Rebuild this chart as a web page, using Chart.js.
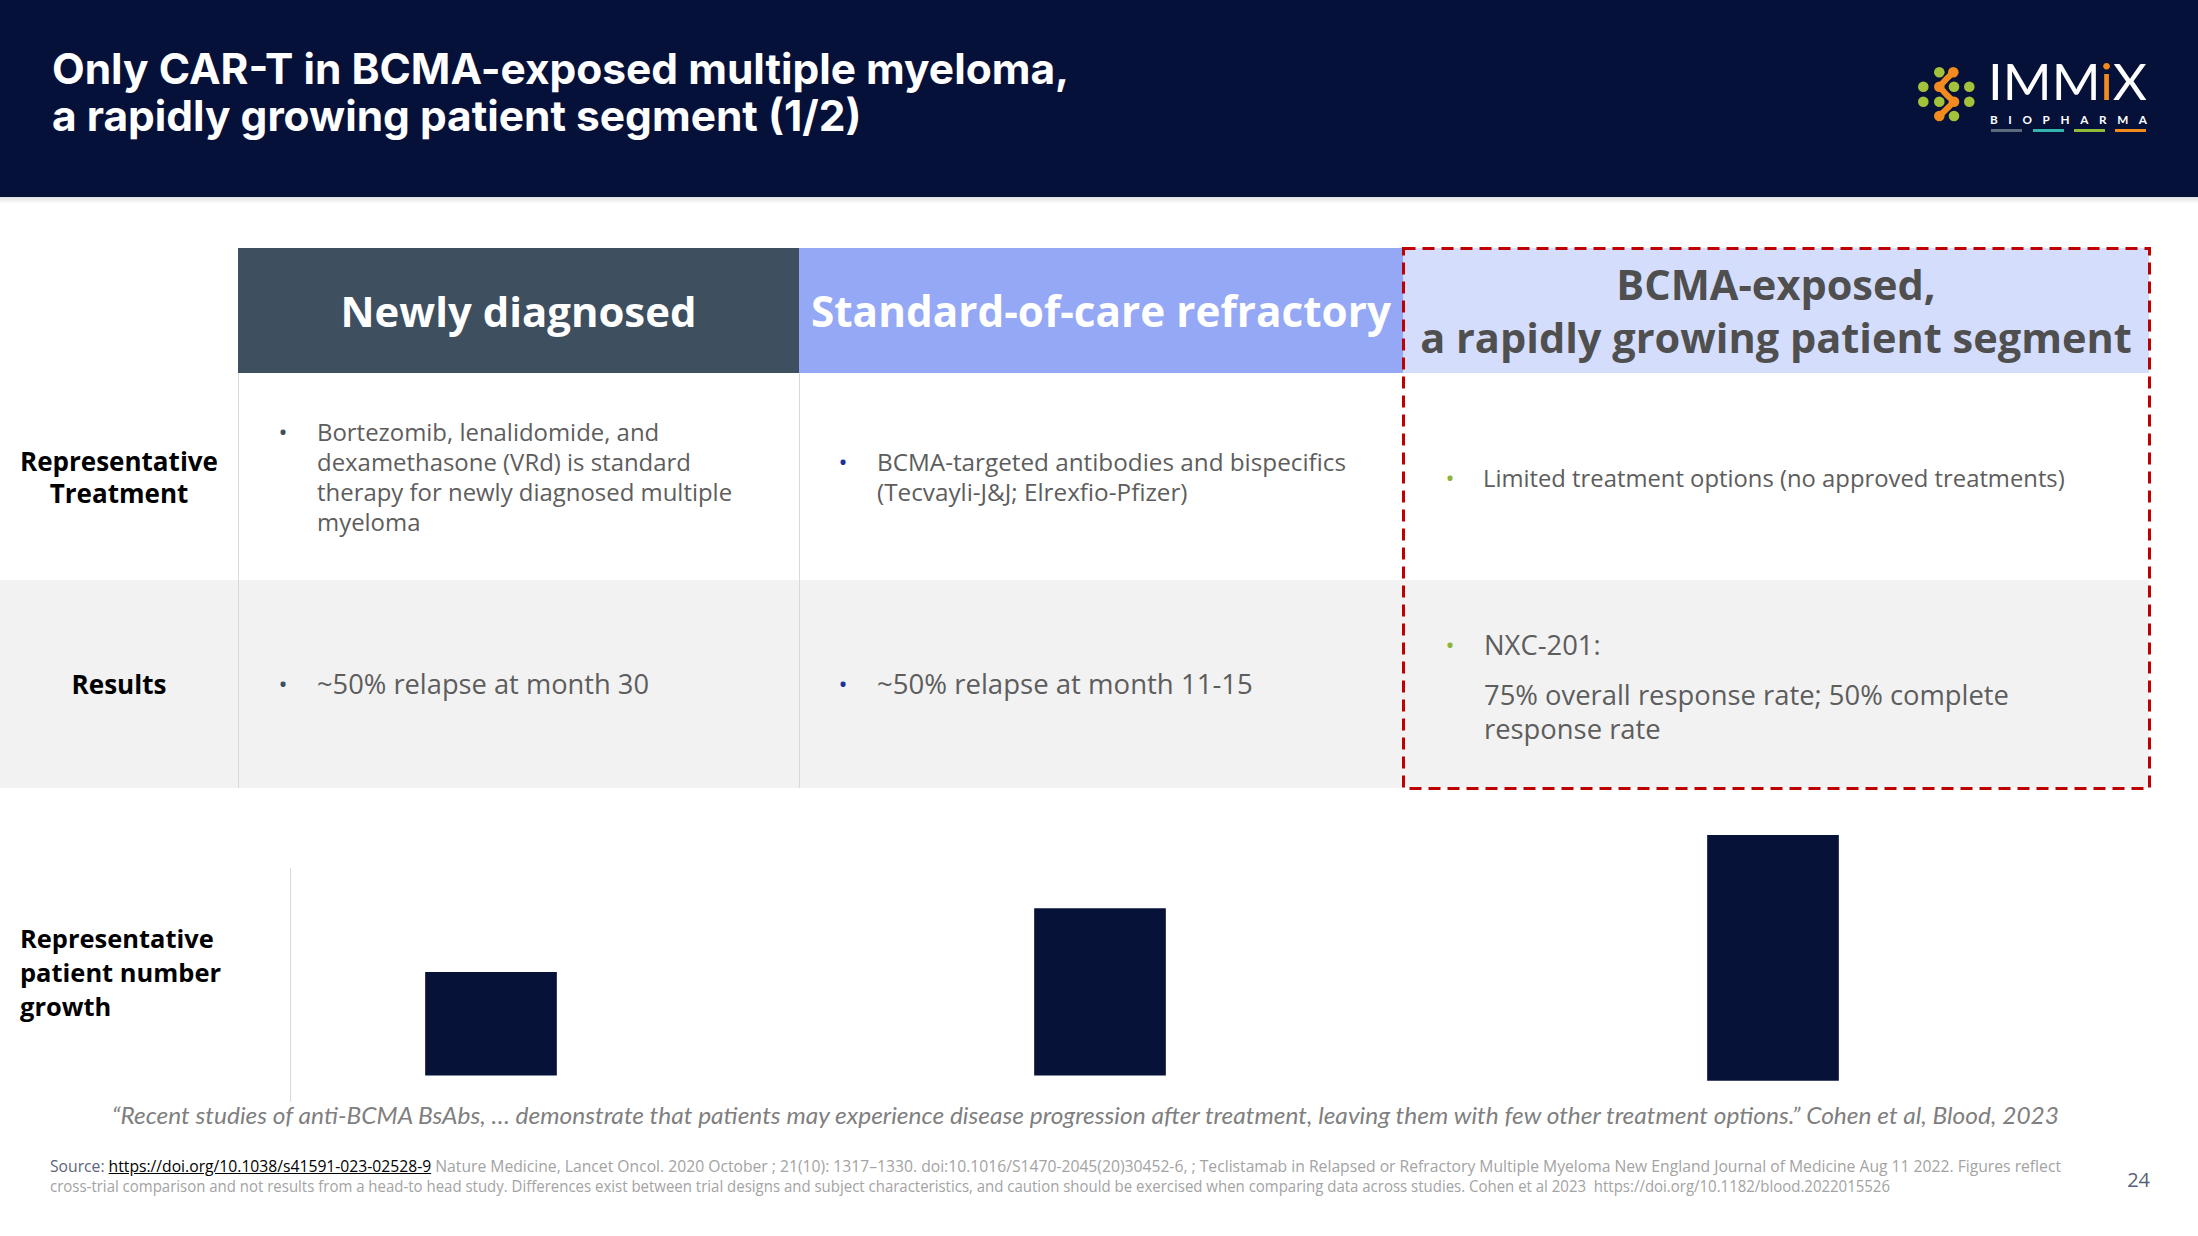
<!DOCTYPE html>
<html><head><meta charset="utf-8">
<script src="https://cdn.jsdelivr.net/npm/chart.js@4.4.0/dist/chart.umd.min.js"></script>
<style>
html,body{margin:0;padding:0;}
body{width:2198px;height:1236px;position:relative;overflow:hidden;background:#fff;font-family:"Open Sans","Noto Sans",sans-serif;}
.abs{position:absolute;}
.fit{display:inline-block;white-space:nowrap;}
.cell{position:absolute;display:flex;align-items:center;}
.row{display:flex;align-items:flex-start;}
.bul{display:inline-block;width:14px;text-align:center;font-size:24px;line-height:30px;}
.txt{color:#5d5d5d;font-size:24px;line-height:30px;}
.hd{position:absolute;display:flex;align-items:center;justify-content:center;font-weight:700;}
.lab{position:absolute;display:flex;align-items:center;justify-content:center;font-weight:700;color:#000;text-align:center;}
</style>
</head>
<body>
<!-- header band -->
<div class="abs" style="left:0;top:0;width:2198px;height:197px;background:#06113a;"></div>
<div class="abs" style="left:0;top:197px;width:2198px;height:7px;background:linear-gradient(#e2e2e2,#ffffff);"></div>
<div class="abs fit" data-w="1017" style="left:52px;top:45px;font-family:Inter,'Open Sans',sans-serif;color:#fff;font-weight:700;font-size:38px;line-height:47px;">Only CAR-T in BCMA-exposed multiple myeloma,<br>a rapidly growing patient segment (1/2)</div>

<!-- logo -->
<svg class="abs" style="left:1910px;top:60px;" width="70" height="70" viewBox="1910 60 70 70">
  <path d="M1953.3 72.3 Q1946 79 1939.3 86.7 Q1946 95 1954 101.7 Q1947 109 1939.3 116" stroke="#f28a1e" stroke-width="6" fill="none" stroke-linecap="round"/>
  <g fill="#a3c13a">
    <circle cx="1939.3" cy="72.3" r="5.3"/>
    <circle cx="1923.3" cy="86.7" r="5.3"/>
    <circle cx="1954" cy="86.7" r="5.3"/>
    <circle cx="1969.3" cy="86.7" r="5.3"/>
    <circle cx="1923.3" cy="101.7" r="5.3"/>
    <circle cx="1939.3" cy="101.7" r="5.3"/>
    <circle cx="1969.3" cy="101.7" r="5.3"/>
    <circle cx="1954" cy="116" r="5.3"/>
  </g>
  <g fill="#f28a1e">
    <circle cx="1953.3" cy="72.3" r="5.3"/>
    <circle cx="1939.3" cy="86.7" r="5.3"/>
    <circle cx="1954" cy="101.7" r="5.3"/>
    <circle cx="1939.3" cy="116" r="5.3"/>
  </g>
</svg>
<div class="abs fit" data-sx="159" style="left:1988px;top:61px;font-family:Lato,'Open Sans',sans-serif;color:#fff;font-weight:400;font-size:51px;line-height:40px;transform-origin:left center;">IMM<span style="color:#f28a1e;">i</span>X</div>
<div class="abs fit" data-sx="157" style="left:1990px;top:113px;font-family:Lato,'Open Sans',sans-serif;color:#fff;font-weight:700;font-size:12px;line-height:14px;letter-spacing:10.9px;transform-origin:left center;">BIOPHARM<span style="letter-spacing:0;">A</span></div>
<div class="abs" style="left:1991px;top:129px;width:31px;height:3px;background:#5d6b7d;"></div>
<div class="abs" style="left:2033px;top:129px;width:31px;height:3px;background:#33b5ad;"></div>
<div class="abs" style="left:2074px;top:129px;width:31px;height:3px;background:#8fba3a;"></div>
<div class="abs" style="left:2115px;top:129px;width:31px;height:3px;background:#f28a1e;"></div>

<!-- table backgrounds -->
<div class="abs" style="left:0;top:580px;width:2149px;height:208px;background:#f2f2f2;"></div>
<div class="abs" style="left:238px;top:248px;width:561px;height:125px;background:#3e4f5f;"></div>
<div class="abs" style="left:799px;top:248px;width:604px;height:125px;background:#94a8f5;"></div>
<div class="abs" style="left:1403px;top:248px;width:746px;height:125px;background:#d5ddfc;"></div>
<div class="abs" style="left:238px;top:373px;width:1px;height:415px;background:#d9d9d9;"></div>
<div class="abs" style="left:799px;top:373px;width:1px;height:415px;background:#d9d9d9;"></div>

<!-- header texts -->
<div class="hd" style="left:238px;top:248px;width:561px;height:125px;color:#fff;"><span class="fit" data-w="356" style="font-size:40px;line-height:50px;">Newly diagnosed</span></div>
<div class="hd" style="left:799px;top:248px;width:604px;height:125px;color:#fff;"><span class="fit" data-w="580" style="font-size:40px;line-height:50px;">Standard-of-care refractory</span></div>
<div class="hd" style="left:1403px;top:248px;width:746px;height:125px;color:#4f4f4f;text-align:center;"><span class="fit" data-w="712" style="font-size:38px;line-height:53px;">BCMA-exposed,<br>a rapidly growing patient segment</span></div>

<!-- row labels -->
<div class="lab" style="left:0;top:373px;width:238px;height:207px;"><span class="fit" data-w="198" style="font-size:26px;line-height:32px;">Representative<br>Treatment</span></div>
<div class="lab" style="left:0;top:580px;width:238px;height:208px;"><span class="fit" data-w="95" style="font-size:26px;line-height:32px;">Results</span></div>
<div class="abs fit" data-w="201" style="left:20px;top:921px;font-weight:700;color:#000;font-size:26px;line-height:34px;">Representative<br>patient number<br>growth</div>

<!-- cells row 1 -->
<div class="cell" style="left:276px;top:373px;width:520px;height:207px;">
  <div class="row"><span class="bul" style="color:#3e4f5f;margin-right:27px;">•</span><span class="fit txt" data-w="415">Bortezomib, lenalidomide, and<br>dexamethasone (VRd) is standard<br>therapy for newly diagnosed multiple<br>myeloma</span></div>
</div>
<div class="cell" style="left:836px;top:373px;width:565px;height:207px;">
  <div class="row"><span class="bul" style="color:#1f2f99;margin-right:27px;">•</span><span class="fit txt" data-w="469">BCMA-targeted antibodies and bispecifics<br>(Tecvayli-J&amp;J; Elrexfio-Pfizer)</span></div>
</div>
<div class="cell" style="left:1443px;top:373px;width:700px;height:210px;">
  <div class="row"><span class="bul" style="color:#8db33a;margin-right:26px;">•</span><span class="fit txt" data-w="582">Limited treatment options (no approved treatments)</span></div>
</div>
<!-- cells row 2 -->
<div class="cell" style="left:276px;top:580px;width:520px;height:208px;">
  <div class="row"><span class="bul" style="color:#3e4f5f;margin-right:27px;">•</span><span class="fit txt" data-w="332">~50% relapse at month 30</span></div>
</div>
<div class="cell" style="left:836px;top:580px;width:565px;height:208px;">
  <div class="row"><span class="bul" style="color:#1f2f99;margin-right:27px;">•</span><span class="fit txt" data-w="376">~50% relapse at month 11-15</span></div>
</div>
<div class="cell" style="left:1443px;top:580px;width:700px;height:214px;">
  <div class="row"><span class="bul" style="color:#8db33a;margin-right:27px;line-height:34px;">•</span><span class="fit txt" data-w="525" style="line-height:34px;"><div>NXC-201:</div><div style="margin-top:16px;">75% overall response rate; 50% complete<br>response rate</div></span></div>
</div>

<!-- dashed highlight box -->
<svg class="abs" style="left:1401px;top:246px;" width="751" height="545">
  <rect x="2.5" y="2.5" width="746" height="540" fill="none" stroke="#c00000" stroke-width="3" stroke-dasharray="12 7"/>
</svg>

<!-- chart area -->
<div class="abs" style="left:290px;top:868px;width:1px;height:234px;background:#d9d9d9;"></div>
<canvas id="bar0" class="abs" width="300" height="280" style="left:341px;top:820px;"></canvas>
<canvas id="bar1" class="abs" width="300" height="280" style="left:950px;top:820px;"></canvas>
<canvas id="bar2" class="abs" width="300" height="280" style="left:1623px;top:820px;"></canvas>

<!-- quote -->
<div class="abs fit" data-sx="1947" style="left:112px;top:1100px;font-family:Lato,'Open Sans',sans-serif;font-style:italic;color:#7f7f7f;font-size:24px;line-height:30px;transform-origin:left center;">“Recent studies of anti-BCMA BsAbs, … demonstrate that patients may experience disease progression after treatment, leaving them with few other treatment options.” Cohen et al, Blood, 2023</div>

<!-- footnote -->
<div class="abs fit" data-sx="2011" style="left:50px;top:1156px;font-size:16px;line-height:20px;color:#a3a3a3;transform-origin:left center;"><span style="color:#5b6478;">Source: </span><span style="color:#000;text-decoration:underline;">https://doi.org/10.1038/s41591-023-02528-9</span> Nature Medicine, Lancet Oncol. 2020 October ; 21(10): 1317–1330. doi:10.1016/S1470-2045(20)30452-6, ; Teclistamab in Relapsed or Refractory Multiple Myeloma New England Journal of Medicine Aug 11 2022. Figures reflect</div>
<div class="abs fit" data-sx="1840" style="left:50px;top:1176px;font-size:16px;line-height:20px;color:#a3a3a3;transform-origin:left center;">cross-trial comparison and not results from a head-to head study. Differences exist between trial designs and subject characteristics, and caution should be exercised when comparing data across studies. Cohen et al 2023&nbsp; https://doi.org/10.1182/blood.2022015526</div>
<div class="abs" style="left:2100px;top:1168px;width:50px;text-align:right;font-size:20px;line-height:24px;color:#585f7a;">24</div>

<script>
// ---- data ----
const categories = ['Newly diagnosed', 'Standard-of-care refractory', 'BCMA-exposed'];
const growthTop = [100, 162, 233];   // relative patient numbers (bar tops)
const growthBase = [0, 0, -5];       // bar bottoms
const yMin = -24, yMax = 248;

// ---- text fitting ----
function fitAll(){
  document.querySelectorAll('[data-w]').forEach(el=>{
    const target = +el.dataset.w;
    for(let i=0;i<3;i++){
      const w = el.getBoundingClientRect().width;
      const fs = parseFloat(getComputedStyle(el).fontSize);
      if(w>0) el.style.fontSize = (fs*target/w)+'px';
    }
  });
  document.querySelectorAll('[data-sx]').forEach(el=>{
    const target = +el.dataset.sx;
    const w = el.getBoundingClientRect().width;
    if(w>0) el.style.transform = 'scaleX('+(target/w)+')';
  });
}
fitAll();

// ---- charts ----
categories.forEach((c,i)=>{
  new Chart(document.getElementById('bar'+i), {
    type:'bar',
    data:{labels:[c], datasets:[{data:[[growthBase[i], growthTop[i]]], backgroundColor:'#061238', borderWidth:0, barThickness:131}]},
    options:{
      responsive:false, animation:false, events:[],
      plugins:{legend:{display:false}, tooltip:{enabled:false}},
      layout:{padding:0},
      scales:{x:{display:false}, y:{display:false, min:yMin, max:yMax}}
    }
  });
});
</script>
</body></html>
